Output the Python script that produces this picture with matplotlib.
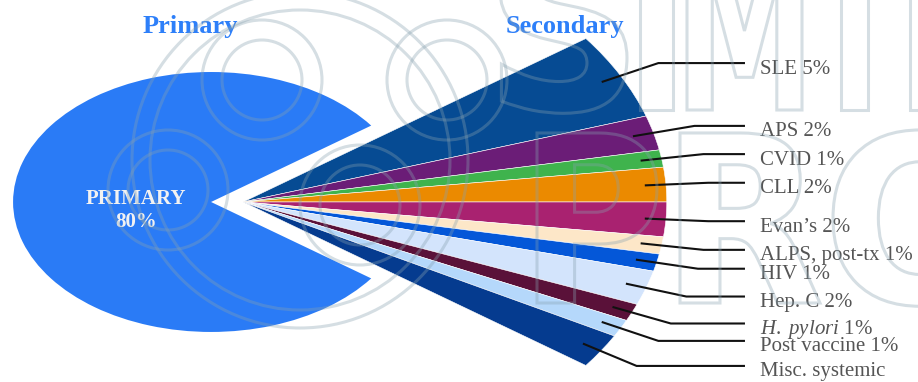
import numpy as np
import matplotlib.pyplot as plt
from matplotlib.textpath import TextPath
from matplotlib.patches import PathPatch, Circle
from matplotlib.font_manager import FontProperties
from matplotlib.transforms import Affine2D

plt.rcParams['font.family'] = ['Liberation Serif', 'DejaVu Serif']
plt.rcParams['mathtext.fontset'] = 'custom'
plt.rcParams['mathtext.rm'] = 'Liberation Serif'
plt.rcParams['mathtext.it'] = 'Liberation Serif:italic'

# shares in percent
primary_share = 80
secondary_names = ['SLE', 'APS', 'CVID', 'CLL', 'Evan’s', 'ALPS, post-tx',
                   'HIV', 'Hep. C', r'$H.\ pylori$', 'Post vaccine',
                   'Misc. systemic']
secondary_share = [5, 2, 1, 2, 2, 1, 1, 2, 1, 1, 2]
show_share = [True] * 10 + [False]

primary_color = '#2a7bf6'
secondary_colors = ['#064b93', '#6b1d77', '#3fb34d', '#eb8a00', '#a92270',
                    '#fde7c8', '#0457d8', '#d3e4fc', '#5a1139', '#b5d8fb',
                    '#053b8f']

labels = [f'{n} {v}%' if s else n
          for n, v, s in zip(secondary_names, secondary_share, show_share)]

fig = plt.figure(figsize=(9.18, 3.82), dpi=100)
ax = fig.add_axes([0, 0, 1, 1])

# the secondary group is the missing 20% of the main pie, pulled out and enlarged
gap = sum(secondary_share) / 100 * 360
start = gap / 2

ax.pie([primary_share / 100], colors=[primary_color], startangle=start,
       radius=1.0, center=(0, 0), normalize=False,
       wedgeprops=dict(linewidth=0))

sec_center = (0.162, 0.0)
sec_radius = 2.14
wedges, _ = ax.pie([v / 100 for v in secondary_share], colors=secondary_colors,
                   startangle=start, counterclock=False, radius=sec_radius,
                   center=sec_center, normalize=False,
                   wedgeprops=dict(edgecolor='white', linewidth=0.4))

# stretch the pies horizontally
ax.set_aspect('auto')
ax.set_xlim(-1.066, 3.571)
ax.set_ylim(-1.385, 1.554)
ax.axis('off')

line_end = 2.697
text_x = 2.773
for w, lab in zip(wedges, labels):
    a = np.deg2rad((w.theta1 + w.theta2) / 2)
    x0 = sec_center[0] + 0.95 * sec_radius * np.cos(a)
    y0 = sec_center[1] + 0.95 * sec_radius * np.sin(a)
    x1 = sec_center[0] + 1.10 * sec_radius * np.cos(a)
    y1 = sec_center[1] + 1.10 * sec_radius * np.sin(a)
    ax.plot([x0, x1, line_end], [y0, y1, y1], color='#111111', lw=1.5,
            solid_capstyle='butt', solid_joinstyle='miter')
    ax.annotate(lab, xy=(text_x, y1), xytext=(0, -7.6),
                textcoords='offset points', ha='left', va='baseline',
                fontsize=15, color='#555555')

ax.text(-0.379, -0.065, f'PRIMARY\n{primary_share}%', ha='center',
        va='center', fontsize=15, fontweight='bold', color='#f2f2f2',
        linespacing=1.15)

ax.text(-0.106, 1.30, 'Primary', ha='center', va='baseline', fontsize=19,
        fontweight='bold', color='#2d7ff9')
ax.text(1.790, 1.30, 'Secondary', ha='center', va='baseline', fontsize=19,
        fontweight='bold', color='#2d7ff9')

# faint watermark drawn over everything, in pixel units
wm = fig.add_axes([0, 0, 1, 1], zorder=3)
wm.set_xlim(0, 918)
wm.set_ylim(382, 0)
wm.axis('off')
wm_style = dict(fc='none', ec='#87a1af', lw=2.2, alpha=0.35)
fp = FontProperties(family='DejaVu Sans', weight='bold')


def letter(ch, left, width, base, cap=170):
    tp = TextPath((0, 0), ch, size=233, prop=fp)
    ext = tp.get_extents()
    tr = (Affine2D().translate(-ext.x0, 0)
          .scale(width / ext.width, -cap / (0.729 * 233))
          .translate(left, base))
    wm.add_patch(PathPatch(tr.transform_path(tp), **wm_style))


for ch, left, width in [('S', 500, 127), ('I', 640, 33), ('M', 687, 115),
                        ('T', 807, 95), ('I', 910, 33)]:
    letter(ch, left, width, 110)
for ch, left, width in [('P', 537, 120), ('R', 680, 140), ('O', 833, 175)]:
    letter(ch, left, width, 303)

# looped emblem on the left
for cx, cy in [(262, 80), (168, 190), (447, 80), (360, 205)]:
    for r in (40, 60):
        wm.add_patch(Circle((cx, cy), r, **wm_style))
for r in (150, 168):
    wm.add_patch(Circle((300, 160), r, **wm_style))

fig.savefig('out.png', dpi=100)
